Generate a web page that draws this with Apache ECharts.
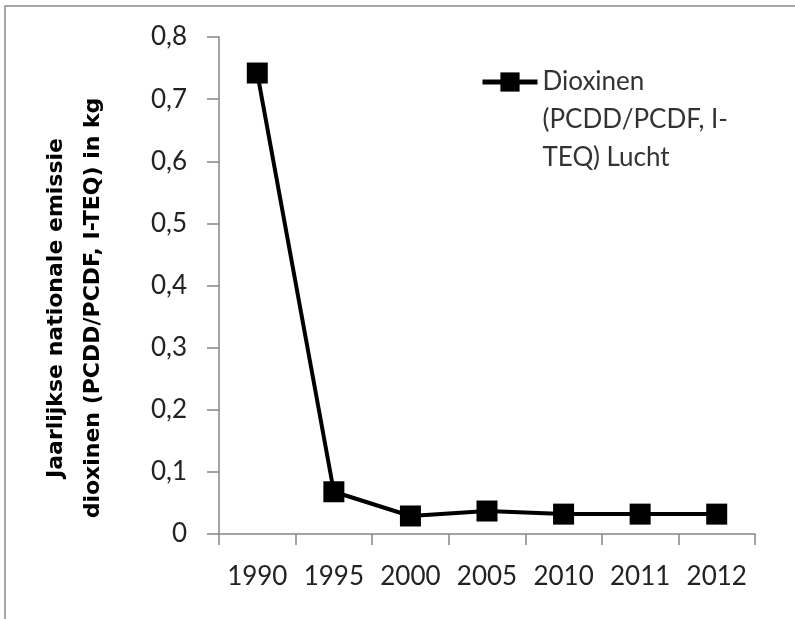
<!DOCTYPE html>
<html>
<head>
<meta charset="utf-8">
<script src="https://cdn.jsdelivr.net/npm/echarts@6/dist/echarts.min.js"></script>
<style>
  html, body { margin: 0; padding: 0; background: #fff; }
  #chart { width: 795px; height: 619px; }
</style>
</head>
<body>
<div id="chart"></div>
<script>
const years = ['1990', '1995', '2000', '2005', '2010', '2011', '2012']
const dioxinen = [0.742, 0.068, 0.029, 0.037, 0.032, 0.032, 0.032]
const seriesName = 'Dioxinen\n(PCDD/PCDF, I-\nTEQ) Lucht'
const yTitle = 'Jaarlijkse nationale emissie\ndioxinen (PCDD/PCDF, I-TEQ) in kg'

const chart = echarts.init(document.getElementById('chart'), null, { renderer: 'canvas' })

const font = 'Lato, "Open Sans", sans-serif'

const option = {
  animation: false,
  graphic: [
    {
      // outer chart frame (only left and top edges are in view)
      type: 'polyline',
      shape: { points: [[5, 640], [5, 6], [820, 6]] },
      style: { fill: 'none', stroke: '#8a8a8a', lineWidth: 1.5 },
      silent: true
    },
    {
      type: 'text',
      x: 75,
      y: 308,
      rotation: Math.PI / 2,
      silent: true,
      style: {
        text: yTitle,
        align: 'center',
        verticalAlign: 'middle',
        fontFamily: '"DejaVu Sans", sans-serif',
        fontWeight: 'bold',
        fontSize: 22,
        lineHeight: 37,
        fill: '#000'
      }
    }
  ],
  grid: {
    left: 219,
    top: 37,
    right: 40,
    bottom: 85
  },
  legend: {
    data: [seriesName],
    left: 475,
    top: -18,
    itemWidth: 55,
    itemHeight: 24,
    itemGap: 4,
    lineStyle: { width: 5 },
    // two empty lines first so the icon lines up with the first text line
    formatter: name => '\n\n' + name,
    textStyle: {
      fontFamily: font,
      fontSize: 26,
      color: '#333',
      lineHeight: 38
    }
  },
  xAxis: {
    type: 'category',
    data: years,
    boundaryGap: true,
    axisLine: { lineStyle: { color: '#868686', width: 1.5 } },
    axisTick: { show: true, interval: 0, length: 11, lineStyle: { color: '#868686', width: 1.5 } },
    axisLabel: { interval: 0, color: '#222', fontFamily: font, fontSize: 26, margin: 30 },
    splitLine: { show: false }
  },
  yAxis: {
    type: 'value',
    min: 0,
    max: 0.8,
    interval: 0.1,
    axisLine: { show: true, lineStyle: { color: '#868686', width: 1.5 } },
    axisTick: { show: true, length: 12, lineStyle: { color: '#868686', width: 1.5 } },
    axisLabel: {
      color: '#222',
      fontFamily: font,
      fontSize: 26,
      margin: 32,
      formatter: v => (Math.round(v * 10) / 10).toString().replace('.', ',')
    },
    splitLine: { show: false }
  },
  series: [
    {
      name: seriesName,
      type: 'line',
      data: dioxinen,
      symbol: 'rect',
      symbolSize: 21,
      lineStyle: { color: '#000', width: 4 },
      itemStyle: { color: '#000' }
    }
  ]
}

chart.setOption(option)
</script>
</body>
</html>
